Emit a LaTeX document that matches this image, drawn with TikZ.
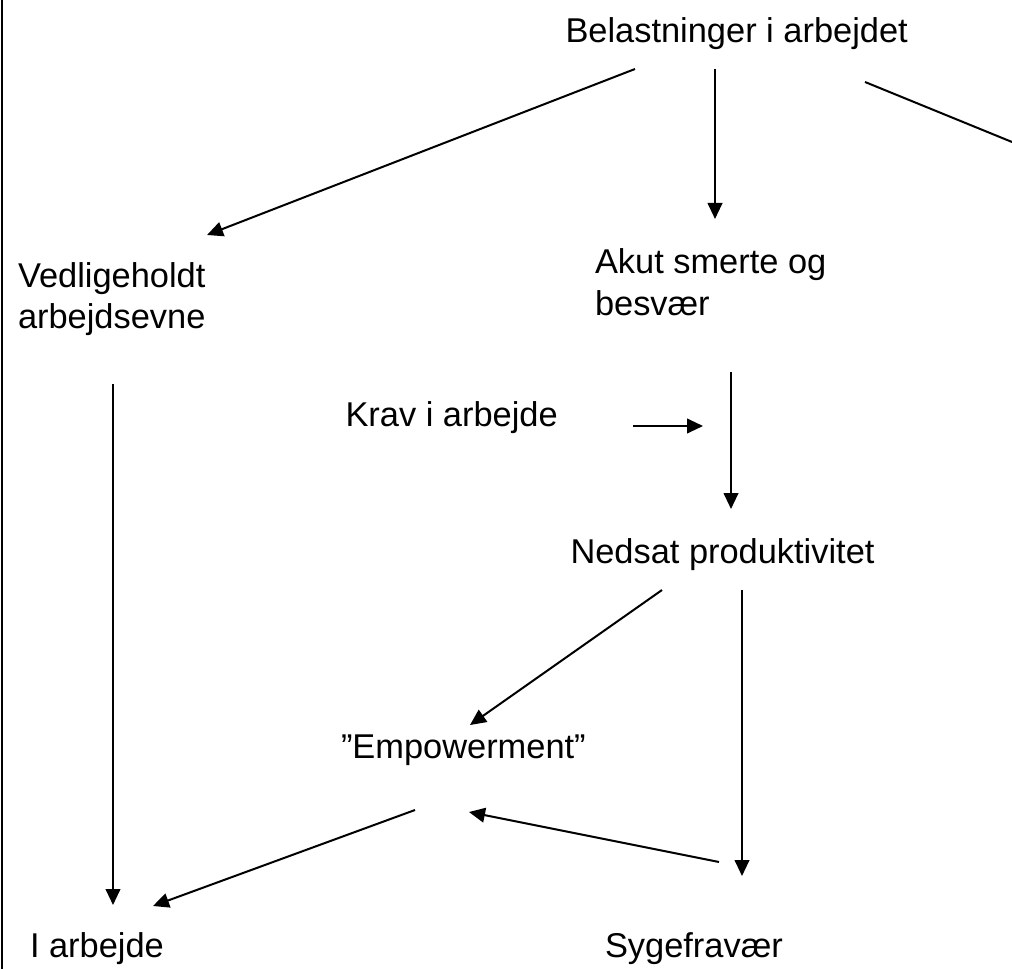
\documentclass[tikz,border=0pt]{standalone}
\usepackage{fontspec}
\setmainfont{Liberation Sans}
\usetikzlibrary{arrows.meta}
\begin{document}
\begin{tikzpicture}[x=0.75pt,y=-0.75pt,
  label text/.style={anchor=base west,inner sep=0pt,outer sep=0pt,align=left,
    font=\fontsize{25.8}{31.4}\selectfont},
  link/.style={line width=1.5pt,-{Triangle[length=12pt,width=11pt]}},
  plain link/.style={line width=1.5pt}]
\useasboundingbox (0,0) rectangle (1012,969);
% left frame edge
\draw[line width=1.5pt] (2,0) -- (2,969);

% texts (multi-line nodes sit on the baseline of their last line)
\node[label text] (belast) at (565.5,43) {Belastninger i arbejdet};
\node[label text] (vedlig) at (18,329) {Vedligeholdt\\arbejdsevne};
\node[label text] (akut)   at (595,315.5) {Akut smerte og\\besvær};
\node[label text] (krav)   at (345.5,426.5) {Krav i arbejde};
\node[label text] (nedsat) at (570.5,563) {Nedsat produktivitet};
\node[label text] (empow)  at (341,758.5) {”Empowerment”};
\node[label text] (iarb)   at (30,957) {I arbejde};
\node[label text] (syge)   at (605,957) {Sygefravær};

% connector end points
\coordinate (b1) at (635,69);   \coordinate (v1) at (207,235);
\coordinate (b2) at (715,69);   \coordinate (a1) at (715,219);
\coordinate (b3) at (865,82);   \coordinate (off) at (1012,142);
\coordinate (k1) at (633,426);  \coordinate (k2) at (703,426);
\coordinate (a2) at (731,372);  \coordinate (n1) at (731,509);
\coordinate (n2) at (662,590);  \coordinate (e1) at (470,725);
\coordinate (n3) at (742,590);  \coordinate (s1) at (742,876);
\coordinate (v2) at (113,384);  \coordinate (i1) at (113,905);
\coordinate (e2) at (415,810);  \coordinate (i2) at (153,906);
\coordinate (s2) at (719,862);  \coordinate (e3) at (469,812);

% connectors
\draw[link] (b1) -- (v1);
\draw[link] (b2) -- (a1);
\draw[plain link] (b3) -- (off);
\draw[link] (k1) -- (k2);
\draw[link] (a2) -- (n1);
\draw[link] (n2) -- (e1);
\draw[link] (n3) -- (s1);
\draw[link] (v2) -- (i1);
\draw[link] (e2) -- (i2);
\draw[link] (s2) -- (e3);
\end{tikzpicture}
\end{document}
